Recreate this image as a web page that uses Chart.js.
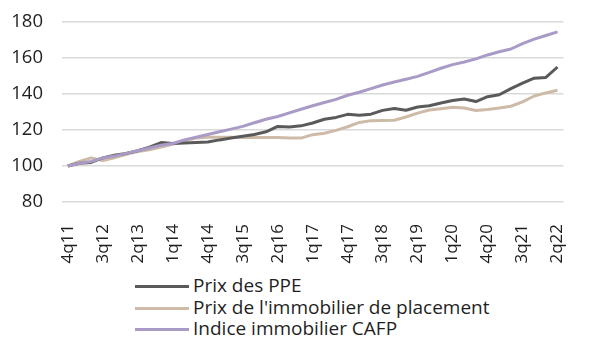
<!DOCTYPE html>
<html>
<head>
<meta charset="utf-8">
<script src="https://cdn.jsdelivr.net/npm/chart.js@4/dist/chart.umd.min.js"></script>
<style>
  html, body { margin: 0; padding: 0; background: #ffffff; }
  #wrap { position: relative; width: 592px; height: 340px; overflow: hidden; }
  #plot { position: absolute; left: 0; top: 0; width: 592px; height: 270px; }
  #legend { position: absolute; left: 0; top: 275px; width: 592px; font-family: "Open Sans", sans-serif; font-size: 19px; color: #1f1f1f; }
  .item { position: relative; height: 21.5px; line-height: 21.5px; }
  .swatch { position: absolute; left: 135px; top: 10px; width: 54px; height: 3px; }
  .text { position: absolute; left: 193px; top: 0; white-space: nowrap; }
</style>
</head>
<body>
<div id="wrap">
  <div id="plot"><canvas id="chart"></canvas></div>
  <div id="legend"></div>
</div>
<script>
// Quarters 4q11 .. 2q22
const quarters = [
  '4q11',
  '1q12','2q12','3q12','4q12',
  '1q13','2q13','3q13','4q13',
  '1q14','2q14','3q14','4q14',
  '1q15','2q15','3q15','4q15',
  '1q16','2q16','3q16','4q16',
  '1q17','2q17','3q17','4q17',
  '1q18','2q18','3q18','4q18',
  '1q19','2q19','3q19','4q19',
  '1q20','2q20','3q20','4q20',
  '1q21','2q21','3q21','4q21',
  '1q22','2q22'
];

// Index values, 4q11 = 100
const prixPPE = [100,101.5,102,104.5,106,107,108.5,110.5,113,112.5,
  112.8,113,113.3,114.5,115.5,116.5,117.5,119,122,121.7,
  122.3,123.9,126,127,128.7,128.2,128.8,130.9,132,131,
  132.8,133.5,135,136.4,137.2,135.8,138.5,139.6,143,146,
  148.8,149.2,155];

const prixPlacement = [100,102.5,104.5,103,104.5,106.5,108,109,110.5,112,
  114,115.5,116,116,116,115.8,115.8,115.8,115.8,115.6,
  115.5,117.4,118.2,119.8,121.8,124.2,125.2,125.3,125.4,127.2,
  129.4,131.1,131.8,132.6,132.2,130.8,131.4,132.2,133.2,135.6,
  138.9,140.6,142.1];

const indiceCAFP = [100,101.5,102.5,104.5,105.5,107,108.5,110,111.5,112.5,
  114.5,116,117.5,119,120.5,122,124,126,127.5,129.5,
  131.5,133.5,135.3,137,139.3,141,143,145,146.7,148.2,
  149.8,152,154.3,156.3,157.8,159.5,161.7,163.5,165,168,
  170.5,172.5,174.5];

const yTicks = [80, 100, 120, 140, 160, 180];

const FONT = '"Open Sans", sans-serif';
const TEXT = '#1f1f1f';

const chart = new Chart(document.getElementById('chart'), {
  type: 'line',
  data: {
    labels: quarters,
    datasets: [
      { label: 'Prix des PPE', data: prixPPE, borderColor: '#5a5a5a', order: 2 },
      { label: "Prix de l'immobilier de placement", data: prixPlacement, borderColor: '#cdbba8', order: 3 },
      { label: 'Indice immobilier CAFP', data: indiceCAFP, borderColor: '#aa9ac6', order: 1 }
    ].map(d => Object.assign(d, {
      borderWidth: 3, pointRadius: 0, tension: 0, fill: false, borderJoinStyle: 'round'
    }))
  },
  options: {
    responsive: true,
    maintainAspectRatio: false,
    animation: false,
    layout: { padding: { left: 10, right: 5, top: 22, bottom: 0 } },
    plugins: { legend: { display: false }, tooltip: { enabled: false } },
    scales: {
      x: {
        offset: true,
        grid: { display: false },
        border: { display: false },
        afterFit: axis => { axis.height = 68; },
        ticks: {
          autoSkip: false,
          minRotation: 90,
          maxRotation: 90,
          padding: 14,
          color: TEXT,
          font: { family: FONT, size: 17 },
          callback: function (v, i) { return i % 3 === 0 ? quarters[i] : ''; }
        }
      },
      y: {
        min: yTicks[0],
        max: yTicks[yTicks.length - 1],
        afterBuildTicks: axis => { axis.ticks = yTicks.map(v => ({ value: v })); },
        afterFit: axis => {
          axis.width = 52;
          // label gap is horizontal only; keep it out of the vertical margins
          axis.paddingTop = 10;
          axis.paddingBottom = 10;
        },
        grid: { color: '#d9d9d9', lineWidth: 1.5, drawTicks: false },
        border: { display: false },
        ticks: { padding: 19, color: TEXT, font: { family: FONT, size: 18.5 } }
      }
    }
  }
});

// Legend stacked one entry per row, built from the datasets
const legend = document.getElementById('legend');
chart.data.datasets.forEach(ds => {
  const row = document.createElement('div');
  row.className = 'item';
  const sw = document.createElement('div');
  sw.className = 'swatch';
  sw.style.background = ds.borderColor;
  const tx = document.createElement('span');
  tx.className = 'text';
  tx.textContent = ds.label;
  row.appendChild(sw);
  row.appendChild(tx);
  legend.appendChild(row);
});
</script>
</body>
</html>
